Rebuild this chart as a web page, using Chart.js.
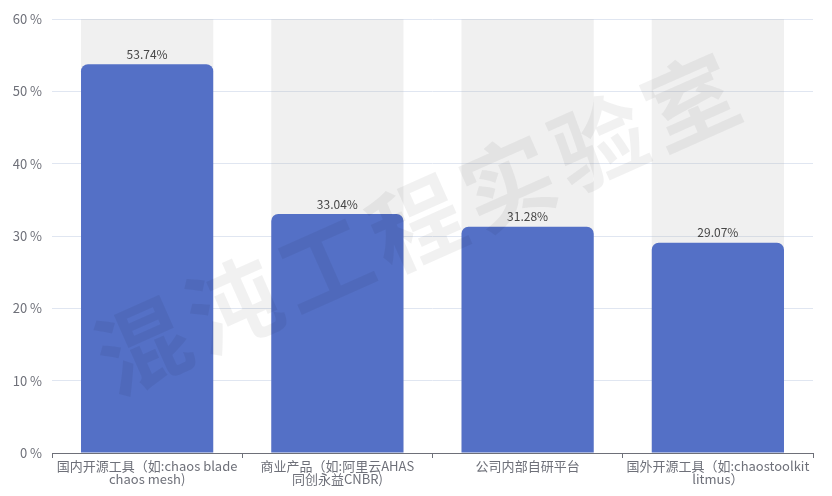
<!DOCTYPE html>
<html lang="zh">
<head>
<meta charset="UTF-8">
<title>混沌工程工具使用情况</title>
<script src="https://cdn.jsdelivr.net/npm/chart.js"></script>
<style>
    html, body { margin: 0; padding: 0; background: #fff; }
    #wrap { width: 832px; height: 496px; }
</style>
</head>
<body>
<div id="wrap"><canvas id="toolChart"></canvas></div>
<script>
    const categories = [
        ['国内开源工具（如:chaos blade', 'chaos mesh)'],
        ['商业产品（如:阿里云AHAS', '同创永益CNBR)'],
        '公司内部自研平台',
        ['国外开源工具（如:chaostoolkit', 'litmus）']
    ];
    const shares = [53.74, 33.04, 31.28, 29.07];
    const axisMax = 60;
    const backdrop = categories.map(() => axisMax);
    const watermark = '混沌工程实验室';

    const fontFamily = '"Microsoft YaHei", "Noto Sans CJK SC", "Noto Sans", sans-serif';

    // value labels above the blue bars
    const valueLabels = {
        id: 'valueLabels',
        afterDatasetsDraw(chart) {
            const ctx = chart.ctx;
            const meta = chart.getDatasetMeta(1);
            ctx.save();
            ctx.font = '12px ' + fontFamily;
            ctx.fillStyle = '#464646';
            ctx.textAlign = 'center';
            ctx.textBaseline = 'bottom';
            meta.data.forEach((bar, i) => {
                ctx.fillText(shares[i].toFixed(2) + '%', bar.x, bar.y - 4);
            });
            ctx.restore();
        }
    };

    // faint rotated watermark over the plot
    const watermarkText = {
        id: 'watermarkText',
        afterDatasetsDraw(chart) {
            const ctx = chart.ctx;
            ctx.save();
            ctx.translate(420, 222);
            ctx.rotate(-24 * Math.PI / 180);
            ctx.font = 'bold 92px ' + fontFamily;
            ctx.fillStyle = 'rgba(0, 0, 0, 0.055)';
            ctx.textAlign = 'center';
            ctx.textBaseline = 'middle';
            if ('letterSpacing' in ctx) ctx.letterSpacing = '8px';
            ctx.fillText(watermark, 0, 0);
            ctx.restore();
        }
    };

    new Chart(document.getElementById('toolChart'), {
        type: 'bar',
        data: {
            labels: categories,
            datasets: [{
                data: backdrop,
                backgroundColor: 'rgba(180, 180, 180, 0.2)',
                borderWidth: 0,
                grouped: false,
                order: 2,
                barPercentage: 0.695,
                categoryPercentage: 1
            }, {
                data: shares,
                backgroundColor: '#5470c6',
                borderWidth: 0,
                borderRadius: { topLeft: 7, topRight: 7 },
                borderSkipped: 'bottom',
                grouped: false,
                order: 1,
                barPercentage: 0.695,
                categoryPercentage: 1
            }]
        },
        options: {
            responsive: true,
            maintainAspectRatio: false,
            animation: false,
            layout: { padding: { top: 19, right: 19, left: 0, bottom: 0 } },
            plugins: {
                legend: { display: false },
                tooltip: { enabled: false }
            },
            scales: {
                x: {
                    afterFit(scale) { scale.height = 43; },
                    border: { display: true, color: '#6e7079', width: 1 },
                    grid: {
                        display: true,
                        drawOnChartArea: false,
                        drawTicks: true,
                        tickLength: 5,
                        offset: true,
                        color: '#6e7079'
                    },
                    ticks: {
                        color: '#6e7079',
                        font: { size: 13, family: fontFamily, lineHeight: 1.0 },
                        padding: 2,
                        maxRotation: 0,
                        autoSkip: false
                    }
                },
                y: {
                    min: 0,
                    max: axisMax,
                    afterFit(scale) { scale.width = 52; },
                    border: { display: false },
                    grid: { color: '#e0e6f1', drawTicks: false },
                    ticks: {
                        stepSize: 10,
                        color: '#6e7079',
                        padding: 10,
                        font: { size: 13, family: fontFamily },
                        callback: v => v + ' %'
                    }
                }
            }
        },
        plugins: [valueLabels, watermarkText]
    });
</script>
</body>
</html>
